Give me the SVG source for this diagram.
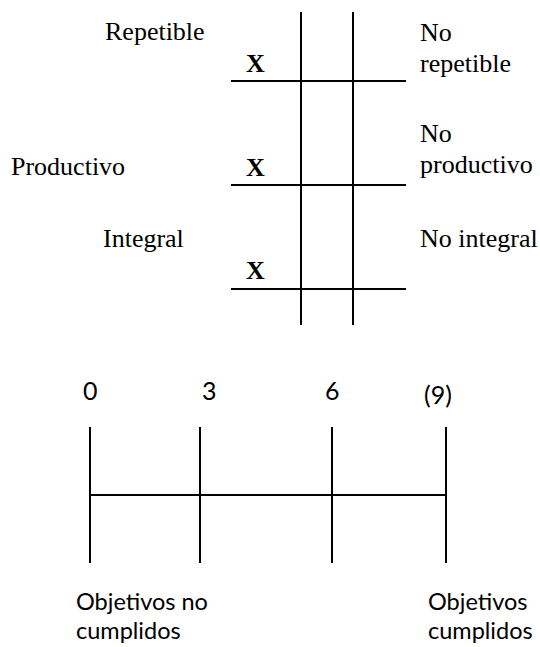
<svg xmlns="http://www.w3.org/2000/svg" width="540" height="647" viewBox="0 0 540 647">
<style>
.ln{stroke:#000;stroke-width:2;fill:none}
.t{font-family:"Liberation Serif","Times New Roman",serif;font-size:26px;fill:#000}
.x{font-family:"Liberation Serif","Times New Roman",serif;font-size:26px;font-weight:bold;fill:#000}
.s{font-family:Lato,"Liberation Sans",sans-serif;font-size:23.5px;fill:#000}
.n{font-family:Lato,"Liberation Sans",sans-serif;font-size:25px;fill:#000}
</style>
<rect width="540" height="647" fill="#fff"/>
<g id="connectors">
<line class="ln" x1="301" y1="12" x2="301" y2="325"/>
<line class="ln" x1="353" y1="12" x2="353" y2="325"/>
<line class="ln" x1="231" y1="81" x2="406" y2="81"/>
<line class="ln" x1="231" y1="185" x2="406" y2="185"/>
<line class="ln" x1="231" y1="289" x2="406" y2="289"/>
<line class="ln" x1="90" y1="427" x2="90" y2="563"/>
<line class="ln" x1="200" y1="427" x2="200" y2="563"/>
<line class="ln" x1="332" y1="427" x2="332" y2="563"/>
<line class="ln" x1="446" y1="427" x2="446" y2="563"/>
<line class="ln" x1="90" y1="495" x2="446" y2="495"/>
</g>
<g id="repetible"><text class="t" x="105" y="40">Repetible</text></g>
<g id="no-repetible"><text class="t" x="420" y="41">No</text><text class="t" x="420" y="72">repetible</text></g>
<g id="x1"><text class="x" x="246" y="72">X</text></g>
<g id="productivo"><text class="t" x="11" y="175">Productivo</text></g>
<g id="no-productivo"><text class="t" x="420" y="142">No</text><text class="t" x="420" y="173">productivo</text></g>
<g id="x2"><text class="x" x="246" y="176">X</text></g>
<g id="integral"><text class="t" x="103" y="247">Integral</text></g>
<g id="no-integral"><text class="t" x="420" y="247">No integral</text></g>
<g id="x3"><text class="x" x="246" y="279">X</text></g>
<g id="n0"><text class="n" x="83" y="400">0</text></g>
<g id="n3"><text class="n" x="202" y="400">3</text></g>
<g id="n6"><text class="n" x="325" y="400">6</text></g>
<g id="n9"><text class="n" x="424" y="404">(9)</text></g>
<g id="obj-no"><text class="s" x="76" y="610">Objetivos no</text><text class="s" x="76" y="639">cumplidos</text></g>
<g id="obj-si"><text class="s" x="428" y="610">Objetivos</text><text class="s" x="428" y="639">cumplidos</text></g>
</svg>
